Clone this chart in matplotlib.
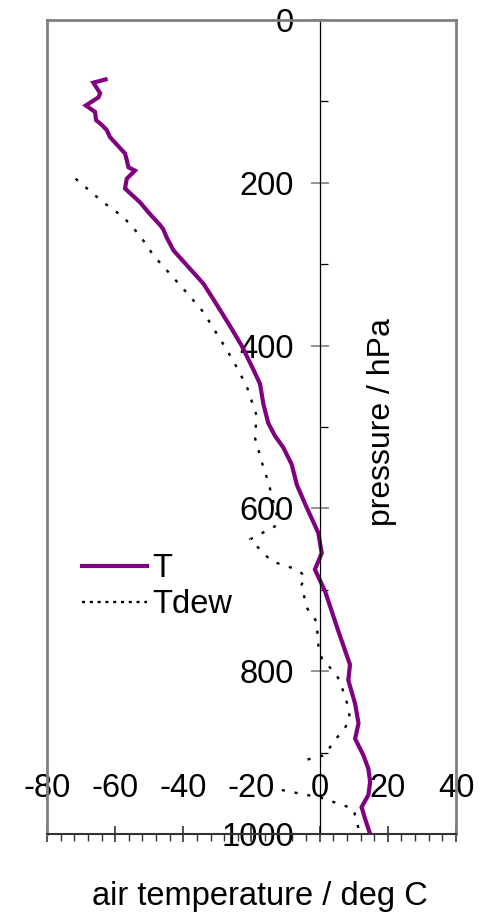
import numpy as np
import matplotlib
matplotlib.use("Agg")
import matplotlib.pyplot as plt
from matplotlib.lines import Line2D

plt.rcParams['font.family'] = ['Liberation Sans', 'DejaVu Sans']
plt.rcParams['axes.unicode_minus'] = False

# temperature profile (hPa, deg C)
p_T = [73, 77, 90, 95, 105, 113, 123, 129, 135, 144, 164, 172, 181, 185, 195, 207, 209,
       224, 236, 252, 257, 267, 275, 283, 310, 324, 343, 376, 400, 429, 447, 472, 495,
       511, 525, 546, 571, 599, 630, 655, 675, 702, 751, 792, 811, 840, 864, 883, 903,
       920, 936, 952, 967, 981, 1000]
T = [-62.8, -66.4, -64.4, -64.9, -68.6, -65.9, -65.6, -63.9, -62.5, -61.5, -57.1, -56.6,
     -56.1, -54.2, -56.6, -57.1, -56.6, -52.7, -50.3, -46.8, -45.9, -44.9, -43.9, -42.9,
     -37.1, -34.1, -31.2, -26.3, -22.9, -19.5, -17.5, -16.5, -15.1, -13.1, -10.7, -8.2,
     -6.7, -3.8, -0.4, 0.6, -1.4, 1.6, 5.5, 8.9, 8.4, 10.4, 11.4, 10.4, 12.8, 14.3, 14.8,
     14.3, 12.3, 13.3, 14.8]

# dew point profile (gap where values are missing)
p_Td = [195, 224, 242, 265, 289, 312, 335, 359, 392, 419, 450, 486, 513, 550, 567, 608,
        622, 638, 665, 675, 683, 694, 722, 739, 768, 784, 805, 813, 844, 860, 872, 887,
        903, 907, 912, 930, 946, 952, 955, 969, 985, 1000]
Tdew = [-71.6, -63.5, -57.6, -52.7, -48.8, -43.9, -39.0, -34.1, -29.2, -25.3, -21.4,
        -18.5, -19.0, -16.5, -15.1, -12.6, -13.1, -20.4, -14.1, -6.7, -4.3, -5.3, -3.8,
        -0.9, -0.4, 0.6, 5.0, 6.0, 8.4, 8.9, 7.0, 4.0, 1.6, -2.3, -6.2, np.nan, -11.1,
        -3.8, 0.1, 9.9, 10.9, 11.8]

xticks = [-80, -60, -40, -20, 0, 20, 40]
yticks = [0, 200, 400, 600, 800, 1000]

purple = '#800080'
gray = '#808080'
fs = 23.5

fig = plt.figure(figsize=(4.81, 9.13), dpi=100)
ax = fig.add_axes([47/481, 79/913, 409/481, 814/913])

ax.plot(T, p_T, color=purple, lw=3, solid_joinstyle='miter')
ax.plot(Tdew, p_Td, color='black', lw=1.7, linestyle=(0, (1.3, 4.2)))

ax.set_xlim(-80, 40)
ax.set_ylim(1000, 0)

# axes: y axis sits at T = 0, grey frame around the plot area
ax.spines['left'].set_position(('data', 0))
ax.spines['left'].set_color('black')
ax.spines['left'].set_linewidth(0.9)
ax.spines['bottom'].set_color('#333333')
ax.spines['bottom'].set_linewidth(1.5)
for s in ['top', 'right']:
    ax.spines[s].set_color(gray)
    ax.spines[s].set_linewidth(2)
ax.axvline(ax.get_xlim()[0], color=gray, lw=2, clip_on=False)

ax.set_xticks(xticks)
ax.set_xticks(np.arange(-80, 41, 4), minor=True)
ax.set_yticks(yticks)
ax.set_yticks(np.arange(100, 1000, 200), minor=True)

ax.tick_params(axis='x', which='major', direction='inout', length=11, width=1.2,
               color='#333333', labelsize=fs, pad=-49.5)
ax.tick_params(axis='x', which='minor', direction='out', length=5, width=1.0,
               color='#333333')
ax.tick_params(axis='y', which='major', direction='inout', length=13, width=1.2,
               color=gray, labelsize=fs, pad=12)
ax.tick_params(axis='y', which='minor', direction='in', length=6, width=0.9,
               color='black')

ax.text(0.82, 0.506, 'pressure / hPa', transform=ax.transAxes, rotation=90,
        ha='center', va='center', fontsize=fs - 0.5)
ax.set_xlabel('air temperature / deg C', fontsize=fs)
ax.xaxis.set_label_coords(0.52, -0.058)

handles = [Line2D([], [], color=purple, lw=3),
           Line2D([], [], color='black', lw=1.7, linestyle=(0, (1.3, 2.0)))]
ax.legend(handles, ['T', 'Tdew'], loc='upper left', bbox_to_anchor=(0.053, 0.361),
          frameon=False, fontsize=fs, handlelength=2.0, handletextpad=0.15,
          labelspacing=0.15, borderaxespad=0)

fig.savefig('out.png', dpi=100)
